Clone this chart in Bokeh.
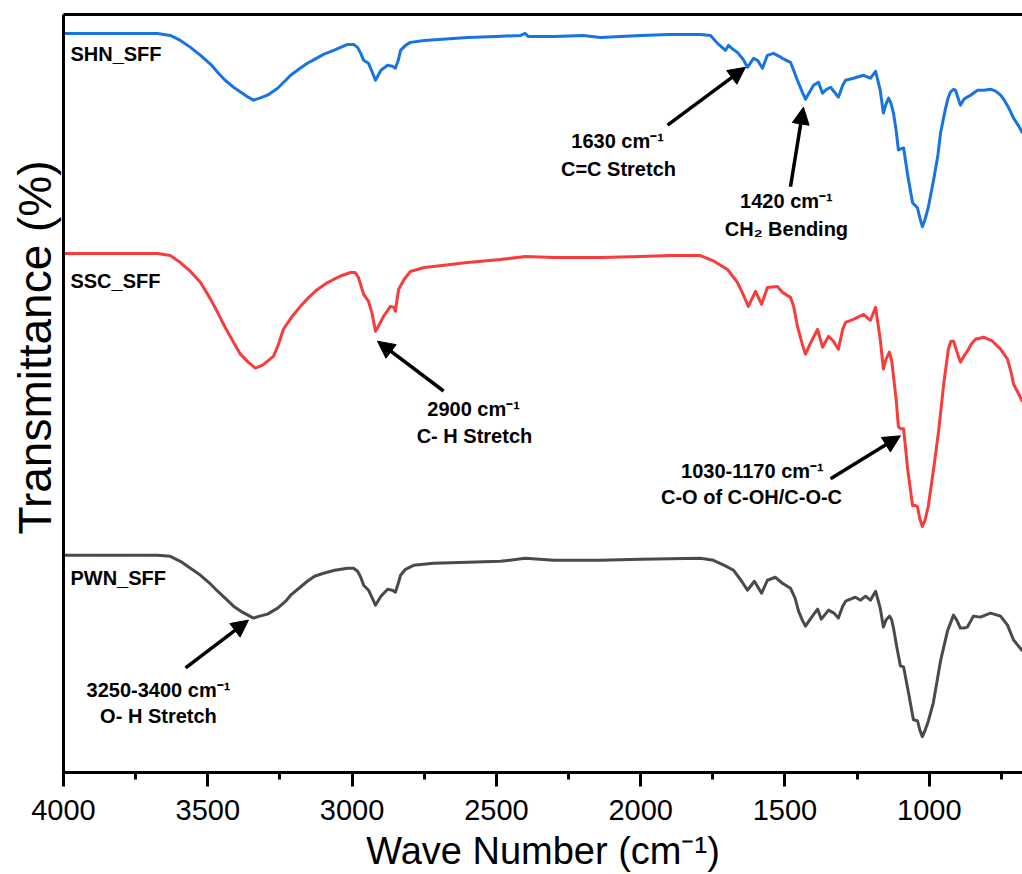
from bokeh.plotting import figure
from bokeh.models import (Range1d, LinearAxis, FixedTicker, SingleIntervalTicker,
                          Arrow, NormalHead, Title, ColumnDataSource)
from bokeh.core.properties import value
from bokeh.embed import file_html
from bokeh.resources import INLINE

# ---------------- data (transmittance, arbitrary offset units) ----------------
shn_x = [4000, 3800, 3674, 3630, 3595, 3560, 3525, 3490, 3466, 3440, 3411, 3380, 3360, 3342,
         3320, 3293, 3258, 3230, 3213, 3180, 3155, 3130, 3099, 3064, 3040, 3016, 2995, 2981,
         2970, 2960, 2943, 2930, 2919, 2900, 2877, 2860, 2850, 2840, 2832, 2815, 2798, 2750,
         2700, 2650, 2600, 2500, 2416, 2400, 2390, 2300, 2200, 2139, 2000, 1900, 1793, 1758,
         1734, 1706, 1696, 1680, 1665, 1645, 1630, 1609, 1595, 1578, 1561, 1540, 1520, 1509,
         1481, 1470, 1457, 1440, 1429, 1415, 1401, 1384, 1370, 1355, 1342, 1315, 1300, 1290,
         1263, 1228, 1204, 1186, 1170, 1159, 1150, 1141, 1133, 1124, 1115, 1107, 1098, 1089,
         1075, 1058, 1048, 1041, 1033, 1024, 1015, 1003, 985, 970, 961, 945, 935, 927,
         915, 909, 900, 892, 880, 875, 857, 833, 810, 788, 770, 753, 740, 726,
         708, 690, 677]
shn_y = [742, 742, 742, 740, 735, 728, 720, 711, 703, 695, 688, 682, 678, 675,
         677, 680, 687, 695, 700, 707, 712, 716, 721, 725, 728, 731, 731, 728,
         722, 715, 712, 703, 695, 705, 710, 709, 707, 715, 725, 730, 733, 735,
         736, 737, 738, 739, 740, 742, 739, 739, 740, 738, 740, 741, 741, 740,
         732, 725, 730, 726, 723, 716, 708, 717, 715, 707, 720, 722, 719, 717,
         713, 705, 695, 683, 676, 683, 690, 693, 682, 686, 688, 678, 690, 695,
         697, 700, 697, 704, 685, 662, 671, 677, 672, 662, 645, 625, 626, 627,
         600, 572, 569, 567, 557, 548, 555, 568, 595, 620, 642, 665, 677, 683,
         686, 685, 677, 670, 676, 677, 680, 685, 685, 686, 684, 680, 675, 668,
         657, 649, 642]

ssc_x = [4000, 3800, 3674, 3630, 3595, 3560, 3525, 3490, 3466, 3440, 3411, 3387, 3360, 3335,
         3310, 3293, 3272, 3255, 3238, 3210, 3179, 3150, 3120, 3090, 3064, 3035, 3005, 2990,
         2978, 2960, 2943, 2930, 2919, 2905, 2891, 2867, 2855, 2850, 2839, 2820, 2798, 2750,
         2718, 2600, 2486, 2400, 2300, 2139, 2000, 1900, 1793, 1750, 1699, 1665, 1645, 1627,
         1602, 1581, 1561, 1526, 1509, 1481, 1470, 1457, 1440, 1429, 1410, 1387, 1370, 1349,
         1332, 1315, 1300, 1290, 1263, 1228, 1204, 1186, 1170, 1159, 1150, 1138, 1130, 1124,
         1115, 1107, 1098, 1089, 1075, 1058, 1048, 1041, 1033, 1024, 1015, 1003, 985, 968,
         950, 934, 925, 916, 905, 892, 880, 868, 855, 840, 812, 781, 753, 729,
         715, 708, 690, 677]
ssc_y = [521, 521, 521, 519, 512, 503, 492, 475, 462, 447, 432, 420, 412, 406,
         409, 413, 418, 430, 445, 457, 468, 477, 485, 491, 495, 499, 502, 502,
         497, 480, 473, 460, 443, 450, 458, 468, 467, 463, 485, 495, 503, 507,
         508, 512, 515, 518, 517, 517, 518, 519, 519, 514, 505, 492, 480, 468,
         483, 470, 487, 488, 482, 477, 468, 448, 430, 420, 432, 445, 427, 438,
         433, 425, 445, 452, 455, 460, 454, 467, 435, 405, 415, 422, 413, 398,
         375, 347, 345, 345, 305, 268, 268, 267, 255, 247, 253, 268, 305, 342,
         390, 425, 433, 433, 423, 412, 418, 423, 430, 435, 437, 433, 425, 415,
         400, 390, 380, 372]

pwn_x = [4000, 3800, 3674, 3630, 3595, 3560, 3525, 3490, 3466, 3440, 3411, 3380, 3342, 3320,
         3293, 3258, 3230, 3213, 3180, 3155, 3130, 3099, 3060, 3016, 2995, 2981, 2970, 2960,
         2943, 2930, 2919, 2900, 2877, 2860, 2850, 2840, 2832, 2815, 2787, 2718, 2600, 2486,
         2400, 2300, 2139, 2000, 1793, 1748, 1710, 1678, 1650, 1630, 1606, 1581, 1561, 1533,
         1509, 1481, 1465, 1453, 1440, 1429, 1410, 1387, 1374, 1349, 1330, 1315, 1300, 1290,
         1256, 1238, 1221, 1204, 1186, 1170, 1159, 1150, 1138, 1130, 1124, 1112, 1100, 1089,
         1072, 1055, 1041, 1033, 1024, 1015, 1003, 986, 961, 937, 916, 905, 892, 880,
         868, 847, 823, 788, 753, 729, 708, 677]
pwn_y = [218, 218, 218, 217, 212, 205, 198, 189, 182, 175, 167, 161, 155, 157,
         159, 165, 172, 178, 186, 192, 197, 200, 203, 205, 205, 202, 196, 188,
         183, 175, 168, 177, 184, 183, 181, 190, 198, 204, 208, 210, 211, 212,
         215, 213, 213, 214, 215, 213, 208, 203, 192, 183, 192, 180, 193, 196,
         190, 185, 175, 162, 153, 147, 155, 164, 154, 163, 160, 155, 167, 172,
         176, 173, 177, 173, 182, 165, 146, 153, 157, 153, 145, 125, 107, 106,
         80, 53, 52, 43, 36, 42, 52, 70, 112, 142, 158, 153, 145, 145,
         146, 157, 156, 160, 157, 148, 133, 122]

series_names = ["SHN_SFF", "SSC_SFF", "PWN_SFF"]
name_x = [3976, 3976, 3976]
name_y = [721, 493, 195]

note_text = ["1630 cm⁻¹", "C=C Stretch", "1420 cm⁻¹", "CH₂ Bending",
             "2900 cm⁻¹", "C- H Stretch", "1030-1170 cm⁻¹", "C-O of C-OH/C-O-C",
             "3250-3400 cm⁻¹", "O- H Stretch"]
note_x = [2080, 2077, 1495, 1495, 2579, 2576, 1613, 1616, 3671, 3671]
note_y = [634, 606, 574, 546, 365, 338, 303, 277, 83, 57]

arrow_x0 = [1907, 1481, 2683, 1342, 3577]
arrow_y0 = [650, 588, 383, 295, 105]
arrow_x1 = [1637, 1436, 2912, 1100, 3359]
arrow_y1 = [708, 668, 433, 338, 153]

# ---------------- figure ----------------
FONT = "Liberation Sans"
p = figure(width=1022, height=874, output_backend="svg", toolbar_location=None,
           x_range=Range1d(4000, 677), y_range=Range1d(0, 761),
           min_border_left=63, min_border_right=0, min_border_top=14, min_border_bottom=99)
p.outline_line_color = None
p.xgrid.visible = False
p.ygrid.visible = False
p.background_fill_color = "white"
p.border_fill_color = "white"

xa = p.xaxis[0]
xa.ticker = SingleIntervalTicker(interval=500, num_minor_ticks=2)
xa.axis_line_width = 3
xa.axis_line_color = "black"
xa.major_tick_in = 0
xa.major_tick_out = 14
xa.minor_tick_in = 0
xa.minor_tick_out = 7
xa.major_tick_line_width = 3
xa.minor_tick_line_width = 3
xa.major_tick_line_color = "black"
xa.minor_tick_line_color = "black"
xa.major_label_text_font = FONT
xa.major_label_text_font_size = "29px"
xa.major_label_text_color = "black"
xa.major_label_standoff = 13
xa.axis_label = "Wave Number (cm⁻¹)"
xa.axis_label_text_font = FONT
xa.axis_label_text_font_size = "38px"
xa.axis_label_text_font_style = "normal"
xa.axis_label_text_color = "black"
xa.axis_label_standoff = 7

ya = p.yaxis[0]
ya.ticker = FixedTicker(ticks=[])
ya.axis_line_width = 3
ya.axis_line_color = "black"
ya.major_tick_out = 0
ya.minor_tick_out = 0
ya.major_label_text_font_size = "0px"
ya.major_label_standoff = 0

top = LinearAxis(ticker=FixedTicker(ticks=[]), axis_line_width=3, axis_line_color="black",
                 major_tick_out=0, minor_tick_out=0, major_label_text_font_size="0px",
                 major_label_standoff=0)
p.add_layout(top, "above")

ytitle = Title(text="Transmittance (%)", align="left", offset=238, standoff=6,
               text_font=FONT, text_font_size="46px", text_font_style="normal",
               text_color="black")
p.add_layout(ytitle, "left")

p.line(shn_x, shn_y, line_color="#1874E0", line_width=3, line_join="round")
p.line(ssc_x, ssc_y, line_color="#F83C3C", line_width=3, line_join="round")
p.line(pwn_x, pwn_y, line_color="#4A4A4A", line_width=3, line_join="round")

p.text(x=name_x, y=name_y, text=series_names, text_font=value(FONT), text_font_style="bold",
       text_font_size="20px", text_align="left", text_baseline="middle", text_color="black")
p.text(x=note_x, y=note_y, text=note_text, text_font=value(FONT), text_font_style="bold",
       text_font_size="20px", text_align="center", text_baseline="middle", text_color="black")

arrows = ColumnDataSource(dict(x0=arrow_x0, y0=arrow_y0, x1=arrow_x1, y1=arrow_y1))
p.add_layout(Arrow(source=arrows, x_start="x0", y_start="y0", x_end="x1", y_end="y1",
                   line_width=3.5, line_color="black",
                   end=NormalHead(size=17, fill_color="black", line_color="black", line_width=1)))

open("out.html", "w").write(file_html(p, INLINE))
